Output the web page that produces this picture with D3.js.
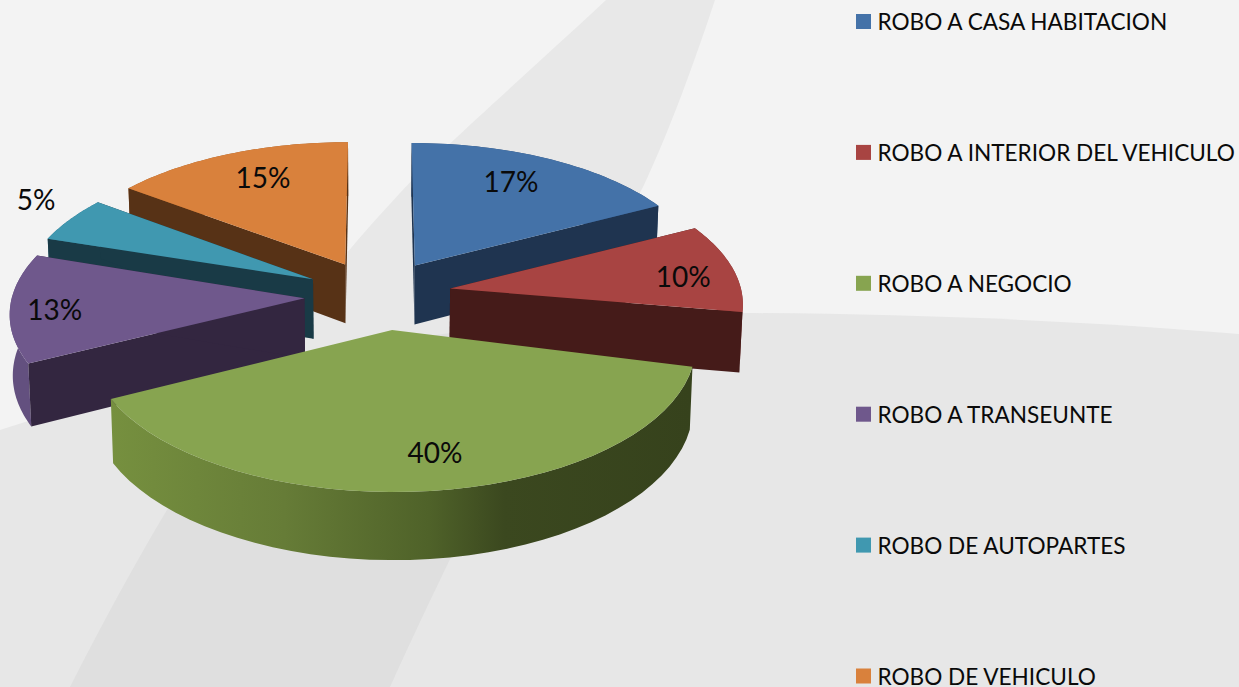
<!DOCTYPE html>
<html><head><meta charset="utf-8">
<script src="https://cdn.jsdelivr.net/npm/d3@7"></script>
<style>html,body{margin:0;padding:0;background:#f3f3f3;overflow:hidden}svg{display:block}text{font-family:Lato,Carlito,sans-serif;fill:#0a0a0a}</style>
</head><body><svg id="c" width="1239" height="687"></svg>
<script>
const categories=["ROBO A CASA HABITACION","ROBO A INTERIOR DEL VEHICULO","ROBO A NEGOCIO","ROBO A TRANSEUNTE","ROBO DE AUTOPARTES","ROBO DE VEHICULO"];
const values=[17,10,40,13,5,15];
const topColors=["#4472a8","#a84442","#87a450","#6f588c","#4098b0","#d9813c"];
const wallColors=["#1f3450","#451b19","#36421c","#332640","#193a46","#573216"];
const rimColors=["#2f4f78","#7a3230","#6a8239","#63507f","#2f7186","#9c5c2a"];
const labelNudge=[[-2,-6],[31,6],[-2,11],[-38,1],[-99,-37],[5,-7]];
const startTrim=[0,1.5,7,2,0,1];
const endTrim=[1,2.5,2,0.5,1,0];
const radiusTrim=[1,0.99,1,0.99,0.99,1];
const W=1239,H=687,cx=378,cy=295,A=295,B=139.5,K=0.095,EXPL=0.25,DEPTH=60;
const rad=d3.scaleLinear().domain([0,180]).range([0,Math.PI]);
const svg=d3.select("#c");
const defs=svg.append("defs");
const grad=defs.append("linearGradient").attr("id","greenRim").attr("gradientUnits","userSpaceOnUse")
 .attr("x1",110).attr("x2",690).attr("y1",0).attr("y2",0);
[[0,"#76903f"],[0.3,"#667c37"],[0.55,"#4f6229"],[0.68,"#3b481f"],[1,"#36421c"]].forEach(s=>grad.append("stop").attr("offset",s[0]).attr("stop-color",s[1]));
// background swooshes
svg.append("rect").attr("width",W).attr("height",H).attr("fill","#f3f3f3");
const bandPath="M606,0 C520,80 440,150 400,193 C300,300 190,450 70,687 L390,687 C470,510 580,300 643,187 C670,130 695,60 715,0 Z";
const clipLower="M0,430 C200,365 500,312 745,313 C930,314 1100,322 1239,334 L1239,687 L0,687 Z";
svg.append("path").attr("d",bandPath).attr("fill","#e8e8e8");
svg.append("path").attr("d",clipLower).attr("fill","#e7e7e7");
defs.append("clipPath").attr("id","lower").append("path").attr("d",clipLower);
svg.append("path").attr("d",bandPath).attr("fill","#dfdfdf").attr("clip-path","url(#lower)");

const pie=d3.pie().sort(null)(values);
function proj(X,Y,z){
 const d=1+K*Y, s=1-0.0085*z;
 return [cx+A*X/d*s, cy-B*Y/d+(z*DEPTH)/d];
}
const line=d3.line();
function slice(d,i){
 const m=(d.startAngle+d.endAngle)/2;
 const ox=EXPL*Math.sin(m), oy=EXPL*Math.cos(m);
 const a0=d.startAngle+rad(startTrim[i]), a1=d.endAngle+rad(endTrim[i]);
 const ang=d3.range(0,41).map(k=>a0+(a1-a0)*k/40);
 const R=radiusTrim[i];
 const pt=(t,z,r=1)=>proj(ox+R*r*Math.sin(t),oy+R*r*Math.cos(t),z);
 return {a0,a1,m,ang,pt};
}
const slices=pie.map(slice);
const order=[0,5,4,1,3,2];
const g=svg.append("g");
order.forEach(i=>{
 const s=slices[i], gg=g.append("g");
 const apexT=s.pt(0,0,0), apexB=s.pt(0,1,0);
 // outer rim
 const rim=s.ang.map(t=>s.pt(t,0)).concat(s.ang.slice().reverse().map(t=>s.pt(t,1)));
 gg.append("path").attr("d",line(rim)+"Z").attr("fill",i===2?"url(#greenRim)":rimColors[i]);
 // radial walls
 [s.a0,s.a1].forEach(a=>{
  if(i===2) return;
  gg.append("path").attr("d",line([apexT,s.pt(a,0),s.pt(a,1),apexB])+"Z").attr("fill",wallColors[i]);
 });
 // top
 gg.append("path").attr("d",line([apexT].concat(s.ang.map(t=>s.pt(t,0))))+"Z").attr("fill",topColors[i]);
});
// labels
slices.forEach((s,i)=>{
 const p=s.pt(s.m,0,0.72);
 svg.append("text").attr("x",p[0]+labelNudge[i][0]).attr("y",p[1]+labelNudge[i][1]).attr("text-anchor","middle")
  .attr("dominant-baseline","central").attr("font-size",28).text(values[i]+"%");
});
// legend
const rows=d3.scalePoint().domain(categories).range([21.5,676]);
const colorOf=d3.scaleOrdinal().domain(categories).range(topColors);
const lg=svg.append("g").selectAll("g").data(categories).join("g").attr("transform",c=>`translate(856,${rows(c)})`);
lg.append("rect").attr("y",-7.5).attr("width",15).attr("height",15).attr("fill",c=>colorOf(c));
lg.append("text").attr("x",21.5).attr("y",8.5).attr("font-size",22.6).text(c=>c);
</script></body></html>
